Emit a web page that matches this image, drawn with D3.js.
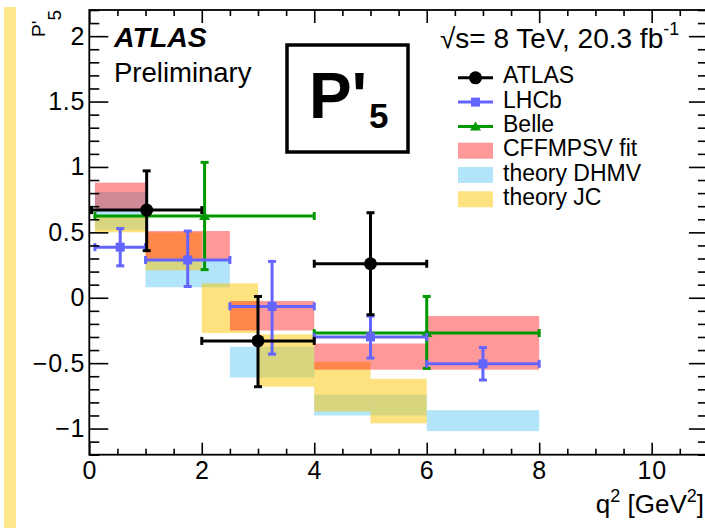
<!DOCTYPE html>
<html>
<head>
<meta charset="utf-8">
<script src="https://cdn.jsdelivr.net/npm/d3@7"></script>
<style>
  html, body { margin: 0; padding: 0; background: #fff; }
  svg { display: block; font-family: "Liberation Sans", Arial, Helvetica, sans-serif; }
</style>
</head>
<body>
<svg id="chart" width="705" height="528"></svg>
<script>
// ---- axis ticks ----
const xTicks = [0, 2, 4, 6, 8, 10];
const yTicks = [-1, -0.5, 0, 0.5, 1, 1.5, 2];

// ---- measurements: q² bin edges, P'5 value, upper / lower total uncertainty ----
const atlasLo = [0.04, 2.0, 4.0];
const atlasHi = [2.0, 4.0, 6.0];
const atlasP5 = [0.67, -0.33, 0.26];
const atlasUp = [0.30, 0.34, 0.39];
const atlasDn = [0.31, 0.35, 0.39];

const lhcbLo = [0.1, 1.0, 2.5, 4.0, 6.0];
const lhcbHi = [1.0, 2.5, 4.0, 6.0, 8.0];
const lhcbP5 = [0.387, 0.289, -0.066, -0.300, -0.505];
const lhcbUp = [0.142, 0.221, 0.344, 0.160, 0.124];
const lhcbDn = [0.143, 0.203, 0.365, 0.161, 0.124];

const belleLo = [0.1, 4.0];
const belleHi = [4.0, 8.0];
const belleP5 = [0.625, -0.27];
const belleUp = [0.41, 0.28];
const belleDn = [0.41, 0.27];

// ---- predictions: q² bin edges and band min / max ----
const cffLo = [0.1, 1.0, 2.5, 4.0, 6.0];
const cffHi = [1.0, 2.5, 4.0, 6.0, 8.0];
const cffMin = [0.665, 0.29, -0.25, -0.55, -0.55];
const cffMax = [0.88, 0.51, -0.025, -0.35, -0.14];

const dhmvLo = [0.1, 1.0, 2.5, 4.0, 6.0];
const dhmvHi = [1.0, 2.5, 4.0, 6.0, 8.0];
const dhmvMin = [0.52, 0.08, -0.61, -0.90, -1.02];
const dhmvMax = [0.81, 0.29, -0.375, -0.74, -0.86];

const jcLo = [0.1, 1, 2, 3, 4, 5];
const jcHi = [1, 2, 3, 4, 5, 6];
const jcMin = [0.50, 0.21, -0.27, -0.68, -0.87, -0.96];
const jcMax = [0.63, 0.50, 0.11, -0.28, -0.49, -0.62];

// ---- colours ----
const cRed = "rgb(255,0,0)", aRed = 0.4;
const cBlue = "rgb(0,170,240)", aBlue = 0.3;
const cYel = "rgb(252,198,0)", aYel = 0.5;
const cAtlas = "#000000", cLhcb = "#6464ff", cBelle = "#009900";

const svg = d3.select("#chart");

// left decorative strip
svg.append("rect").attr("x", 4).attr("y", 7).attr("width", 12).attr("height", 521)
  .attr("fill", "#fde68c");

const x = d3.scaleLinear().domain([0, 11]).range([89.3, 707.9]);
const y = d3.scaleLinear().domain([-1.2, 2.2]).range([454.7, 10]);

const plot = svg.append("g");

// ---- bands ----
function band(lo, hi, mn, mx, col, op) {
  plot.append("g").selectAll("rect").data(lo).join("rect")
    .attr("x", (d, i) => x(lo[i]))
    .attr("width", (d, i) => x(hi[i]) - x(lo[i]))
    .attr("y", (d, i) => y(mx[i]))
    .attr("height", (d, i) => y(mn[i]) - y(mx[i]))
    .attr("fill", col).attr("fill-opacity", op);
}
band(dhmvLo, dhmvHi, dhmvMin, dhmvMax, cBlue, aBlue);
band(jcLo, jcHi, jcMin, jcMax, cYel, aYel);
band(cffLo, cffHi, cffMin, cffMax, cRed, aRed);

// ---- points with error bars ----
function points(lo, hi, val, up, dn, col, marker) {
  const g = plot.append("g").attr("stroke", col).attr("fill", col);
  const cap = 4;
  lo.forEach((_, i) => {
    const cx = x((lo[i] + hi[i]) / 2), cy = y(val[i]);
    const x0 = x(lo[i]), x1 = x(hi[i]);
    const yt = y(val[i] + up[i]), yb = y(val[i] - dn[i]);
    const lines = [
      [x0, cy, x1, cy], [cx, yt, cx, yb],
      [x0, cy - cap, x0, cy + cap], [x1, cy - cap, x1, cy + cap],
      [cx - cap, yt, cx + cap, yt], [cx - cap, yb, cx + cap, yb]
    ];
    lines.forEach(l => g.append("line")
      .attr("x1", l[0]).attr("y1", l[1]).attr("x2", l[2]).attr("y2", l[3])
      .attr("stroke-width", 3));
    drawMarker(g, marker, cx, cy);
  });
}
function drawMarker(g, marker, cx, cy) {
  if (marker === "circle") {
    g.append("circle").attr("cx", cx).attr("cy", cy).attr("r", 6.5).attr("stroke", "none");
  } else if (marker === "square") {
    g.append("rect").attr("x", cx - 4.5).attr("y", cy - 4.5).attr("width", 9).attr("height", 9)
      .attr("stroke", "none");
  } else {
    g.append("path").attr("d", `M${cx - 5.5},${cy + 4} L${cx + 5.5},${cy + 4} L${cx},${cy - 5} Z`)
      .attr("stroke", "none");
  }
}
points(belleLo, belleHi, belleP5, belleUp, belleDn, cBelle, "triangle");
points(lhcbLo, lhcbHi, lhcbP5, lhcbUp, lhcbDn, cLhcb, "square");
points(atlasLo, atlasHi, atlasP5, atlasUp, atlasDn, cAtlas, "circle");

// ---- axes (ticks point inward) ----
const fmt = d3.format("");
const yMinor = d3.ticks(-1.2, 2.2, 34).filter(v => !yTicks.some(t => Math.abs(t - v) < 1e-6));
const xMinor = d3.ticks(0, 11, 22).filter(v => !xTicks.some(t => Math.abs(t - v) < 1e-6));

function styleAxis(g) {
  g.select(".domain").remove();
  g.selectAll("line").attr("stroke", "#000").attr("stroke-width", 1.6);
  g.selectAll("text").attr("fill", "#000").attr("letter-spacing", 0.8);
  g.attr("font-family", null).attr("font-size", 25);
}
svg.append("g").attr("transform", `translate(${x(0)},0)`)
  .call(d3.axisLeft(y).tickValues(yTicks).tickSize(-19).tickPadding(4).tickFormat(fmt)).call(styleAxis);
svg.append("g").attr("transform", `translate(${x(0)},0)`)
  .call(d3.axisLeft(y).tickValues(yMinor).tickSize(-10).tickFormat("")).call(styleAxis);
svg.append("g").attr("transform", `translate(${x(11)},0)`)
  .call(d3.axisRight(y).tickValues(yTicks).tickSize(-19).tickFormat("")).call(styleAxis);
svg.append("g").attr("transform", `translate(${x(11)},0)`)
  .call(d3.axisRight(y).tickValues(yMinor).tickSize(-10).tickFormat("")).call(styleAxis);
svg.append("g").attr("transform", `translate(0,${y(-1.2)})`)
  .call(d3.axisBottom(x).tickValues(xTicks).tickSize(-12).tickPadding(7).tickFormat(fmt)).call(styleAxis);
svg.append("g").attr("transform", `translate(0,${y(-1.2)})`)
  .call(d3.axisBottom(x).tickValues(xMinor).tickSize(-6).tickFormat("")).call(styleAxis);
svg.append("g").attr("transform", `translate(0,${y(2.2)})`)
  .call(d3.axisTop(x).tickValues(xTicks).tickSize(-13).tickFormat("")).call(styleAxis);
svg.append("g").attr("transform", `translate(0,${y(2.2)})`)
  .call(d3.axisTop(x).tickValues(xMinor).tickSize(-6).tickFormat("")).call(styleAxis);

// frame
svg.append("rect").attr("x", x(0)).attr("y", y(2.2))
  .attr("width", x(11) - x(0)).attr("height", y(-1.2) - y(2.2))
  .attr("fill", "none").attr("stroke", "#000").attr("stroke-width", 1.8);

// ---- axis titles ----
const yt = svg.append("text").attr("transform", "translate(45,10) rotate(-90)")
  .attr("text-anchor", "end").attr("font-size", 19);
yt.append("tspan").text("P'");
yt.append("tspan").attr("dy", 16).attr("font-size", 19).text("5");

const xt = svg.append("text").attr("x", 704).attr("y", 513).attr("text-anchor", "end").attr("font-size", 26);
xt.append("tspan").text("q");
xt.append("tspan").attr("dy", -11).attr("font-size", 18).text("2");
xt.append("tspan").attr("dy", 11).text(" [GeV");
xt.append("tspan").attr("dy", -11).attr("font-size", 18).text("2");
xt.append("tspan").attr("dy", 11).text("]");

// ---- labels ----
svg.append("text").attr("x", 114).attr("y", 47).attr("font-size", 28.5)
  .attr("font-weight", "bold").attr("font-style", "italic").text("ATLAS");
svg.append("text").attr("x", 114).attr("y", 82).attr("font-size", 27.5).text("Preliminary");

const en = svg.append("text").attr("x", 440).attr("y", 48).attr("font-size", 28);
en.append("tspan").text("\u221As= 8 TeV, 20.3 fb");
en.append("tspan").attr("dy", -13).attr("font-size", 18).text("-1");

// observable box
svg.append("rect").attr("x", 287).attr("y", 45).attr("width", 121).attr("height", 107)
  .attr("fill", "#fff").attr("stroke", "#000").attr("stroke-width", 3.5);
const pt = svg.append("text").attr("x", 309).attr("y", 118)
  .attr("font-size", 64).attr("font-weight", "bold");
pt.append("tspan").text("P'");
pt.append("tspan").attr("dx", 2).attr("dy", 10).attr("font-size", 35).text("5");

// ---- legend ----
const legendLabels = ["ATLAS", "LHCb", "Belle", "CFFMPSV fit", "theory DHMV", "theory JC"];
const legendKinds = [
  { type: "pt", col: cAtlas, marker: "circle" },
  { type: "pt", col: cLhcb, marker: "square" },
  { type: "pt", col: cBelle, marker: "triangle" },
  { type: "box", col: cRed, op: aRed },
  { type: "box", col: cBlue, op: aBlue },
  { type: "box", col: cYel, op: aYel }
];
const leg = svg.append("g");
legendLabels.forEach((lab, i) => {
  const base = 83.3 + i * 24.3, cy = base - 5.5;
  const k = legendKinds[i];
  if (k.type === "pt") {
    const g = leg.append("g").attr("stroke", k.col).attr("fill", k.col);
    g.append("line").attr("x1", 458).attr("x2", 493).attr("y1", cy).attr("y2", cy).attr("stroke-width", 3);
    drawMarker(g, k.marker, 475.5, cy);
  } else {
    leg.append("rect").attr("x", 458).attr("y", cy - 8).attr("width", 35).attr("height", 16)
      .attr("fill", k.col).attr("fill-opacity", k.op);
  }
  leg.append("text").attr("x", 503).attr("y", base).attr("font-size", 23).text(lab);
});
</script>
</body>
</html>
